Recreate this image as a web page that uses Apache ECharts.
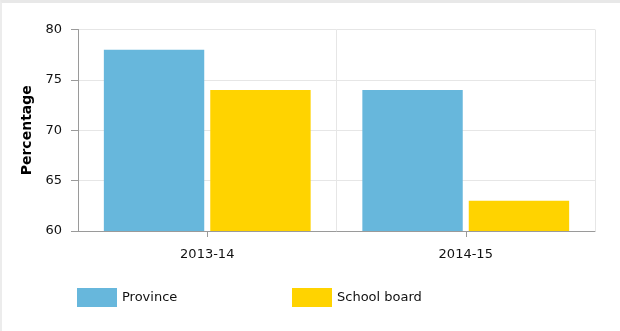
<!DOCTYPE html>
<html>
<head>
<meta charset="utf-8">
<script src="https://cdn.jsdelivr.net/npm/echarts@6/dist/echarts.min.js"></script>
<style>
  html, body { margin: 0; padding: 0; background: #fff; }
  #frame { position: absolute; left: 0; top: 0; width: 620px; height: 331px; box-sizing: border-box;
           border-top: 3px solid #e8e8e8; border-left: 2px solid #ececec; }
  #chart { position: absolute; left: 0; top: 0; width: 620px; height: 331px; }
</style>
</head>
<body>
<div id="chart"></div>
<div id="frame"></div>
<script>
// Years shown on the category axis
const categories = ['2013-14', '2014-15'];
// Percentages for each group
const provinceValues = [78, 74];
const schoolBoardValues = [74, 63];
// Value axis ticks
const yTicks = [60, 65, 70, 75, 80];

const FONT = 'DejaVu Sans, Verdana, sans-serif';
const BLUE = '#67b7dc';
const YELLOW = '#ffd300';
const TEXT = '#111';

const chart = echarts.init(document.getElementById('chart'), null, { renderer: 'canvas' });

chart.setOption({
  animation: false,
  textStyle: { fontFamily: FONT },
  grid: { left: 78, right: 25, top: 29.5, bottom: 100, containLabel: false },
  legend: [
    {
      data: ['Province'], left: 77, top: 288, padding: 0, itemWidth: 40, itemHeight: 19, itemGap: 0,
      icon: 'rect', textStyle: { fontFamily: FONT, fontSize: 13, color: TEXT }
    },
    {
      data: ['School board'], left: 292, top: 288, padding: 0, itemWidth: 40, itemHeight: 19, itemGap: 0,
      icon: 'rect', textStyle: { fontFamily: FONT, fontSize: 13, color: TEXT }
    }
  ],
  xAxis: {
    type: 'category',
    data: categories,
    boundaryGap: true,
    axisLine: { show: true, lineStyle: { color: '#9a9a9a', width: 1 } },
    axisTick: { show: true, alignWithLabel: true, length: 6, lineStyle: { color: '#9a9a9a' } },
    axisLabel: { fontFamily: FONT, fontSize: 13, color: TEXT, margin: 17 },
    splitLine: { show: true, lineStyle: { color: '#e6e6e6', width: 1 } }
  },
  yAxis: {
    type: 'value',
    min: yTicks[0],
    max: yTicks[yTicks.length - 1],
    interval: 5,
    name: 'Percentage',
    nameLocation: 'middle',
    nameGap: 43,
    nameRotate: 90,
    nameTextStyle: { fontFamily: FONT, fontSize: 14, fontWeight: 'bold', color: '#000' },
    axisLine: { show: true, lineStyle: { color: '#9a9a9a', width: 1 } },
    axisTick: { show: true, inside: false, length: 7, lineStyle: { color: '#9a9a9a' } },
    axisLabel: { fontFamily: FONT, fontSize: 13, color: TEXT, margin: 16 },
    splitLine: { show: true, lineStyle: { color: '#e6e6e6', width: 1 } }
  },
  series: [
    {
      name: 'Province', type: 'bar', data: provinceValues,
      itemStyle: { color: BLUE }, barGap: '6%', barCategoryGap: '20%'
    },
    {
      name: 'School board', type: 'bar', data: schoolBoardValues,
      itemStyle: { color: YELLOW }, barGap: '6%', barCategoryGap: '20%'
    }
  ]
});
</script>
</body>
</html>
